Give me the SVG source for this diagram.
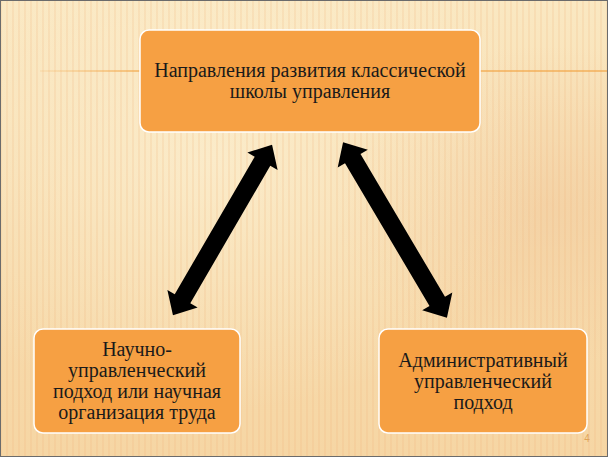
<svg xmlns="http://www.w3.org/2000/svg" width="608" height="457" viewBox="0 0 608 457">
<defs>
<linearGradient id="bg" x1="0" y1="0" x2="0" y2="1">
<stop offset="0" stop-color="#FAE8C2"/>
<stop offset="0.5" stop-color="#F7DCAE"/>
<stop offset="1" stop-color="#F6D6A4"/>
</linearGradient>
<radialGradient id="glow" cx="0.35" cy="0.35" r="0.55">
<stop offset="0" stop-color="#FCF0D2" stop-opacity="0.7"/>
<stop offset="1" stop-color="#FCF0D2" stop-opacity="0"/>
</radialGradient>
<radialGradient id="dark" cx="0.9" cy="0.45" r="0.35">
<stop offset="0" stop-color="#F0C598" stop-opacity="0.45"/>
<stop offset="1" stop-color="#F0C598" stop-opacity="0"/>
</radialGradient>
<pattern id="stripes" width="6" height="457" patternUnits="userSpaceOnUse">
<rect x="0" y="0" width="2" height="457" fill="#F0B27A" opacity="0.18"/>
</pattern>
<linearGradient id="lineL" x1="40" y1="0" x2="140" y2="0" gradientUnits="userSpaceOnUse">
<stop offset="0" stop-color="#F2A545" stop-opacity="0.2"/>
<stop offset="1" stop-color="#F2A545" stop-opacity="1"/>
</linearGradient>
<style>
.box{fill:#F6A043;stroke:#FFFFFF;stroke-width:1.5}
.t{font-family:"Liberation Serif","DejaVu Serif","Times New Roman",serif;font-size:20px;fill:#1A1A1A;text-anchor:middle}
.arrow{fill:#000000}
</style>
</defs>
<rect x="0" y="0" width="608" height="457" fill="url(#bg)"/>
<rect x="0" y="0" width="608" height="457" fill="url(#dark)"/>
<rect x="0" y="0" width="608" height="457" fill="url(#glow)"/>
<rect x="0" y="0" width="608" height="457" fill="url(#stripes)"/>
<rect x="40" y="70.4" width="100" height="1.2" fill="url(#lineL)"/>
<rect x="480" y="70.4" width="128" height="1.2" fill="#F2A545"/>
<g id="connectors">
<polygon class="arrow" transform="translate(222.5,230) rotate(-59.8)" points="98.5,0 79.5,-17.5 79.5,-9 -79.5,-9 -79.5,-17.5 -98.5,0 -79.5,17.5 -79.5,9 79.5,9 79.5,17.5"/>
<polygon class="arrow" transform="translate(395,230) rotate(59.4)" points="102,0 83,-17.5 83,-9 -83,-9 -83,-17.5 -102,0 -83,17.5 -83,9 83,9 83,17.5"/>
</g>
<g id="node-top">
<rect class="box" x="140" y="30" width="340" height="102" rx="9"/>
<text class="t" x="310" y="77">Направления развития классической</text>
<text class="t" x="310" y="98">школы управления</text>
</g>
<g id="node-left">
<rect class="box" x="34" y="329" width="206" height="104" rx="9"/>
<text class="t" x="137" y="356">Научно-</text>
<text class="t" x="137" y="377">управленческий</text>
<text class="t" x="137" y="398">подход или научная</text>
<text class="t" x="137" y="419">организация труда</text>
</g>
<g id="node-right">
<rect class="box" x="379" y="329" width="208" height="104" rx="9"/>
<text class="t" x="483" y="367">Административный</text>
<text class="t" x="483" y="388">управленческий</text>
<text class="t" x="483" y="409">подход</text>
</g>
<text x="587" y="442" font-family="Liberation Sans, Arial, sans-serif" font-size="10" fill="#E0A35A" text-anchor="middle">4</text>
<rect x="0.5" y="0.5" width="607" height="456" fill="none" stroke="#6B6B6B" stroke-width="1"/>
</svg>
